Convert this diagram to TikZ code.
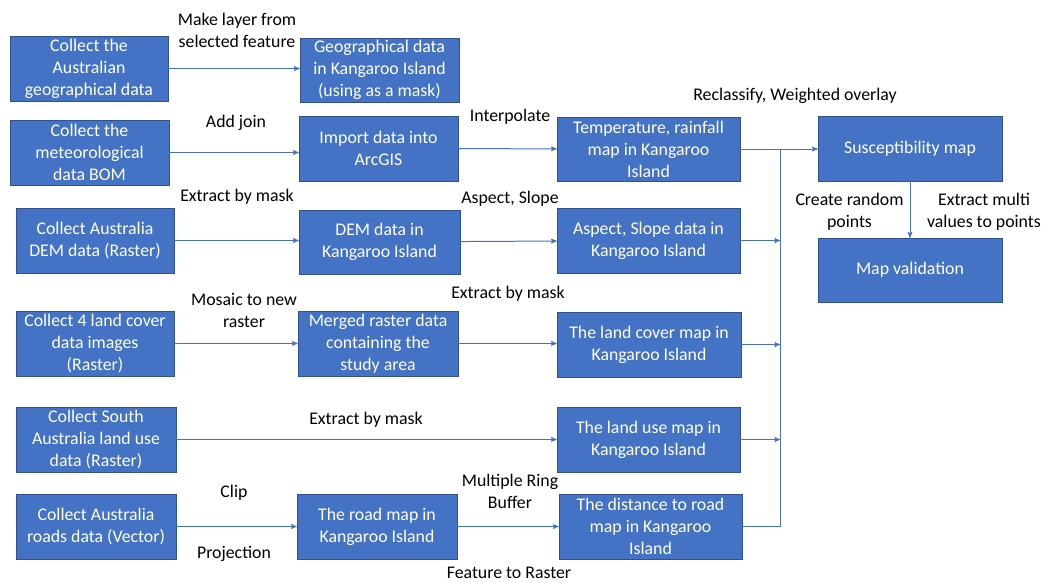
\documentclass[tikz,border=0pt]{standalone}
\usepackage{fontspec}
\setmainfont{Carlito}
\usetikzlibrary{positioning,arrows}
\definecolor{boxblue}{HTML}{4472C4}
\definecolor{boxline}{HTML}{2F528F}

\begin{document}
\begin{tikzpicture}[x=1pt,y=-1pt]
	\tikzstyle{box_style} = [rectangle,draw=boxline,line width=0.6pt,fill=boxblue,text=white,align=center,inner sep=0pt,font=\fontsize{17.8}{22}\selectfont]
	\tikzstyle{edge_style} = [draw=boxblue,line width=1pt,->,>=stealth']
	\tikzstyle{label_style} = [align=center,inner sep=0pt,font=\fontsize{17.8}{22}\selectfont]
	\useasboundingbox (0,0) rectangle (1042,582);
	    % boxes
	    \node[box_style,minimum width=158pt,minimum height=65pt] (geo_au) at (89,68.5) {Collect the\\Australian\\geographical data};
	    \node[box_style,minimum width=159pt,minimum height=64pt] (geo_ki) at (379.5,70) {Geographical data\\in Kangaroo Island\\(using as a mask)};
	    \node[box_style,minimum width=159pt,minimum height=65pt] (met) at (89.5,152.5) {Collect the\\meteorological\\data BOM};
	    \node[box_style,minimum width=159pt,minimum height=65pt] (imp) at (378.5,148.5) {Import data into\\ArcGIS};
	    \node[box_style,minimum width=183pt,minimum height=64pt] (temp) at (648.5,149) {Temperature, rainfall\\map in Kangaroo\\Island};
	    \node[box_style,minimum width=184pt,minimum height=65pt] (susc) at (910,148.5) {Susceptibility map};
	    \node[box_style,minimum width=184pt,minimum height=64pt] (valid) at (910,270) {Map validation};
	    \node[box_style,minimum width=158pt,minimum height=65pt] (dem_au) at (95,240.5) {Collect Australia\\DEM data (Raster)};
	    \node[box_style,minimum width=161pt,minimum height=64pt] (dem_ki) at (379.5,242) {DEM data in\\Kangaroo Island};
	    \node[box_style,minimum width=183pt,minimum height=65pt] (aspect) at (648.5,240.5) {Aspect, Slope data in\\Kangaroo Island};
	    \node[box_style,minimum width=158pt,minimum height=65pt] (lc_au) at (95,343.5) {Collect 4 land cover\\data images\\(Raster)};
	    \node[box_style,minimum width=160pt,minimum height=65pt] (merged) at (378,343.5) {Merged raster data\\containing the\\study area};
	    \node[box_style,minimum width=184pt,minimum height=65pt] (lc_ki) at (649,344.5) {The land cover map in\\Kangaroo Island};
	    \node[box_style,minimum width=160pt,minimum height=65pt] (lu_au) at (96,439.5) {Collect South\\Australia land use\\data (Raster)};
	    \node[box_style,minimum width=183pt,minimum height=65pt] (lu_ki) at (648.5,439.5) {The land use map in\\Kangaroo Island};
	    \node[box_style,minimum width=160pt,minimum height=65pt] (road_au) at (96,526.5) {Collect Australia\\roads data (Vector)};
	    \node[box_style,minimum width=160pt,minimum height=65pt] (road_ki) at (377,526.5) {The road map in\\Kangaroo Island};
	    \node[box_style,minimum width=183pt,minimum height=65pt] (dist) at (650.5,526.5) {The distance to road\\map in Kangaroo\\Island};
	    % labels
	    \node[label_style] (l_layer) at (237,30) {Make layer from\\selected feature};
	    \node[label_style] (l_join) at (236,123) {Add join};
	    \node[label_style] (l_interp) at (510,117) {Interpolate};
	    \node[label_style] (l_reclass) at (795,96) {Reclassify, Weighted overlay};
	    \node[label_style] (l_mask1) at (237,197) {Extract by mask};
	    \node[label_style] (l_slope) at (510,199) {Aspect, Slope};
	    \node[label_style] (l_mosaic) at (244,310) {Mosaic to new\\raster};
	    \node[label_style] (l_mask2) at (508,294) {Extract by mask};
	    \node[label_style] (l_mask3) at (366,420) {Extract by mask};
	    \node[label_style] (l_clip) at (234,493) {Clip};
	    \node[label_style] (l_proj) at (234,554) {Projection};
	    \node[label_style] (l_buffer) at (510,491) {Multiple Ring\\Buffer};
	    \node[label_style] (l_raster) at (509,573) {Feature to Raster};
	    \node[label_style] (l_random) at (849.5,211.5) {Create random\\points};
	    \node[label_style] (l_multi) at (984,211.5) {Extract multi\\values to points};
	    % bus
	    \coordinate (bus_top) at (780,149);
	    \coordinate (bus_bot) at (780,526.5);
	    % connectors
	    \draw[edge_style]  (geo_au) -- (geo_ki.west |- geo_au);
	    \draw[edge_style]  (met) -- (imp.west |- met);
	    \draw[edge_style]  (imp) -- (temp);
	    \draw[edge_style]  (dem_au) -- (dem_ki.west |- dem_au);
	    \draw[edge_style]  (dem_ki) -- (aspect);
	    \draw[edge_style]  (lc_au) -- (merged.west |- lc_au);
	    \draw[edge_style]  (merged) -- (lc_ki.west |- merged);
	    \draw[edge_style]  (lu_au) -- (lu_ki);
	    \draw[edge_style]  (road_au) -- (road_ki);
	    \draw[edge_style]  (road_ki) -- (dist);
	    \draw[edge_style,-]  (dist) -- (bus_bot) -- (bus_top);
	    \draw[edge_style]  (temp) -- (susc.west |- temp);
	    \draw[edge_style]  (aspect) -- (aspect.east -| bus_top);
	    \draw[edge_style]  (lc_ki) -- (lc_ki.east -| bus_top);
	    \draw[edge_style]  (lu_ki) -- (lu_ki.east -| bus_top);
	    \draw[edge_style]  (susc) -- (valid);
\end{tikzpicture}
\end{document}
